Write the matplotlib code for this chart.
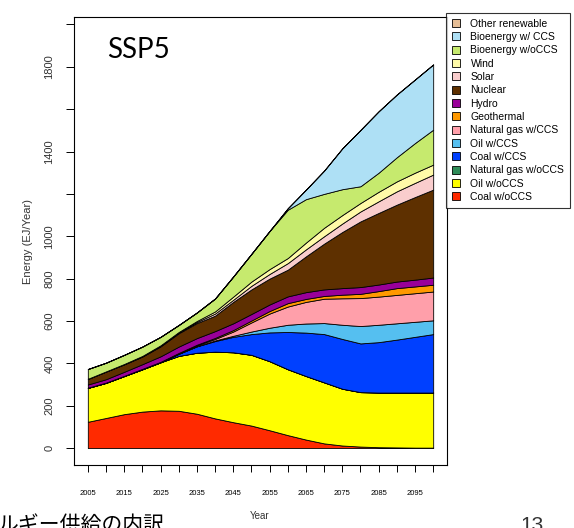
import matplotlib
matplotlib.use("Agg")
import matplotlib.pyplot as plt
from matplotlib.patches import Patch

# Energy supply by source, SSP5 (EJ/year), every 5 years
years = list(range(2005, 2101, 5))

coal_wo = [124, 142, 160, 172, 178, 176, 162, 140, 122, 106, 84, 61, 40, 22, 12, 7, 4, 3, 2, 2]
oil_wo = [160, 166, 180, 200, 227, 259, 288, 315, 330, 334, 326, 311, 300, 288, 268, 257, 258, 259, 260, 260]
gas_wo = [0, 0, 0, 0, 0, 0, 0, 0, 0, 0, 0, 0, 0, 0, 0, 0, 0, 0, 0, 0]
coal_w = [0, 0, 0, 0, 0, 10, 30, 50, 73, 98, 136, 176, 205, 228, 235, 230, 238, 250, 263, 276]
oil_w = [0, 0, 0, 0, 0, 0, 1, 3, 5, 12, 22, 34, 43, 52, 67, 82, 82, 77, 71, 65]
gas_w = [0, 0, 0, 0, 0, 2, 4, 7, 20, 43, 67, 86, 102, 115, 125, 132, 133, 134, 135, 136]
geo = [1, 1, 1, 2, 2, 2, 3, 5, 7, 9, 12, 16, 14, 13, 17, 20, 26, 32, 32, 32]
hydro = [15, 16, 19, 22, 26, 30, 31, 32, 32, 31, 31, 32, 32, 31, 31, 32, 31, 31, 32, 34]
nuclear = [26, 36, 35, 36, 47, 63, 71, 73, 101, 116, 122, 126, 169, 216, 265, 310, 338, 363, 390, 415]
solar = [0, 0, 1, 1, 2, 3, 5, 10, 10, 17, 22, 31, 33, 35, 40, 47, 55, 63, 67, 71]
wind = [1, 1, 1, 2, 3, 3, 5, 10, 15, 20, 23, 24, 32, 40, 40, 40, 45, 47, 48, 47]
bio_wo = [46, 41, 43, 44, 40, 33, 40, 61, 95, 131, 180, 228, 205, 160, 122, 79, 90, 114, 140, 165]
bio_w = [0, 0, 0, 0, 0, 0, 0, 0, 0, 0, 0, 7, 45, 110, 193, 266, 290, 296, 300, 308]
other_ren = [0, 0, 0, 0, 0, 0, 0, 0, 0, 0, 0, 0, 0, 0, 0, 0, 0, 0, 0, 0]

labels = ["Coal w/oCCS", "Oil w/oCCS", "Natural gas w/oCCS", "Coal w/CCS",
          "Oil w/CCS", "Natural gas w/CCS", "Geothermal", "Hydro", "Nuclear",
          "Solar", "Wind", "Bioenergy w/oCCS", "Bioenergy w/ CCS", "Other renewable"]
colors = ["#FF2A00", "#FFFF00", "#2E8B57", "#0040FF", "#55BFF0", "#FF9FAA",
          "#FF9900", "#990099", "#5E3000", "#F9CDCD", "#FFFAA8", "#C6EA6E",
          "#AEE0F5", "#E6BE96"]
layers = [coal_wo, oil_wo, gas_wo, coal_w, oil_w, gas_w, geo, hydro, nuclear,
          solar, wind, bio_wo, bio_w, other_ren]

plt.rcParams["font.family"] = ["Liberation Sans", "DejaVu Sans"]

fig = plt.figure(figsize=(5.74, 5.28), dpi=100)
ax = fig.add_axes([74 / 574, 1 - 465 / 528, (447 - 74) / 574, (465 - 17) / 528])

ax.stackplot(years, *layers, colors=colors, edgecolor="black", linewidth=0.6)

ax.set_xlim(2001.2, 2103.8)
ax.set_ylim(-80, 2035)

# x ticks every 5 years, labels every 10
xt = list(range(2005, 2101, 5))
ax.set_xticks(xt)
ax.set_xticklabels([str(t) if (t - 2005) % 10 == 0 else "" for t in xt],
                   fontsize=5.5, family=["Liberation Sans Narrow", "Liberation Sans"])
yt = list(range(0, 2001, 200))
ax.set_yticks(yt)
ax.set_yticklabels([str(t) if t in (0, 200, 400, 600, 800, 1000, 1400, 1800) else ""
                    for t in yt], fontsize=8, rotation=90, va="center", color="#333333")
ax.tick_params(axis="x", direction="out", length=5, width=0.7, pad=13)
ax.tick_params(axis="y", direction="out", length=6, width=0.7, pad=8)
for s in ax.spines.values():
    s.set_linewidth(0.8)

ax.set_ylabel("Energy (EJ/Year)", fontsize=8, color="#333333", labelpad=8)
fig.text(260 / 574, 1 - 516 / 528, "Year", fontsize=7, ha="center", va="center",
         color="#333333")

# scenario label
ax.text(107 / 574, 1 - 50 / 528, "SSP5", transform=fig.transFigure, fontsize=20,
        family="Lato", va="center", ha="left")

# legend, outside the plot to the right (partly cut off like the slide)
handles = [Patch(facecolor=c, edgecolor="black", linewidth=0.6, label=l)
           for c, l in zip(colors[::-1], labels[::-1])]
leg = fig.legend(handles=handles, loc="upper left",
                 bbox_to_anchor=(446 / 574, 1 - 13 / 528), fontsize=7.5,
                 frameon=True, fancybox=False, edgecolor="black",
                 handlelength=0.8, handleheight=0.8, handletextpad=1.0,
                 labelspacing=0.32, borderpad=0.55, borderaxespad=0)
leg.get_frame().set_linewidth(0.8)

# slide text at the bottom (cut off by the slide edge)
fig.text(-2 / 574, 1 - 531 / 528, "ルギー供給の内訳", fontsize=15,
         family=["Noto Sans CJK JP", "DejaVu Sans"], va="baseline", ha="left")
fig.text(520 / 574, 1 - 531 / 528, "13", fontsize=15, va="baseline", ha="left",
         color="#333333")

fig.savefig("out.png", dpi=100)
